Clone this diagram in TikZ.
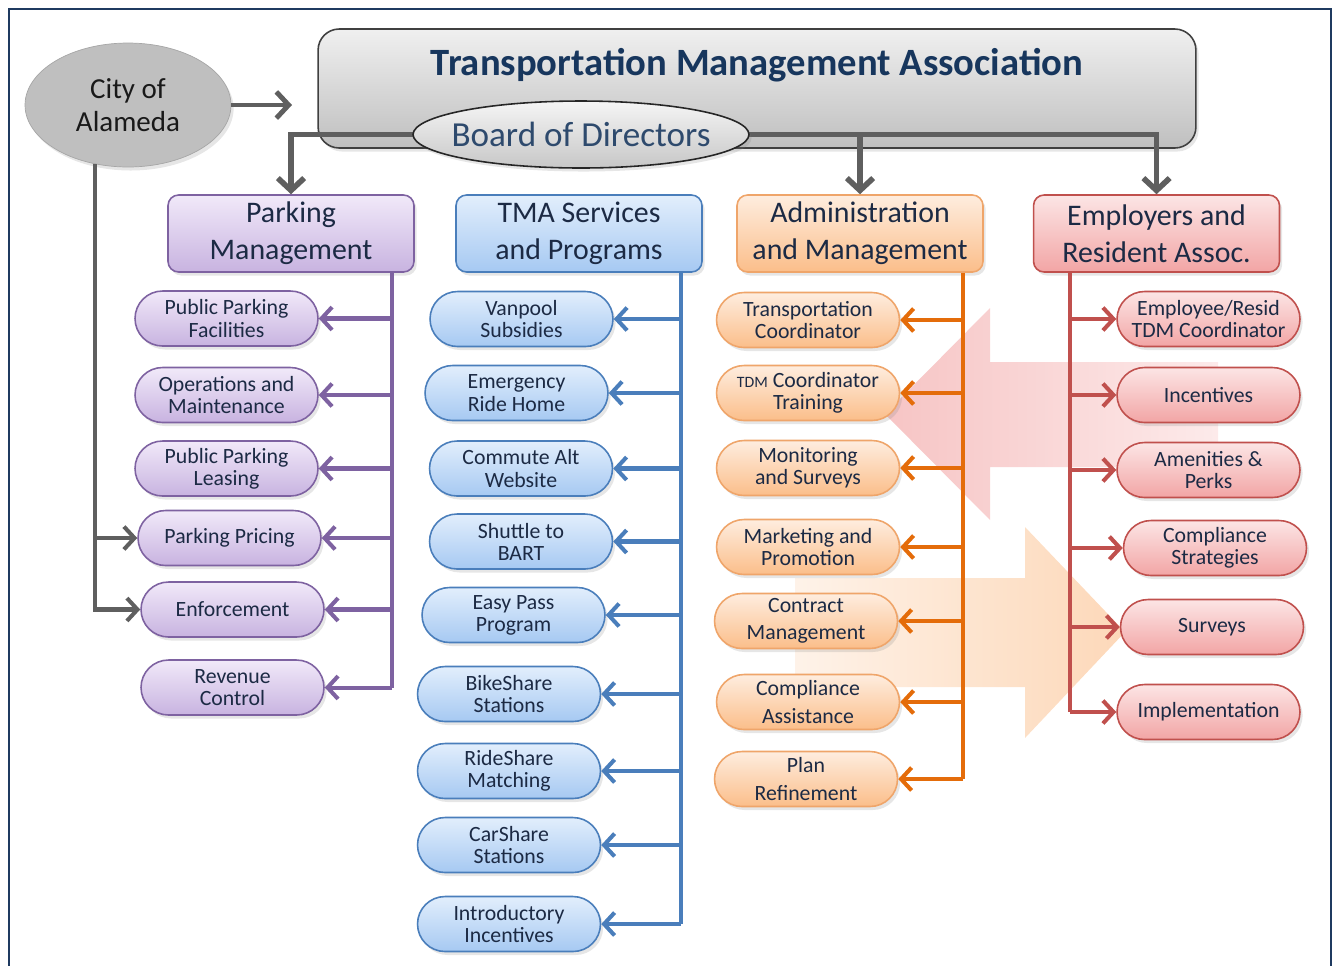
\documentclass[tikz,border=0pt]{standalone}
\usepackage{fontspec}
\setmainfont{Carlito}
\usetikzlibrary{arrows.meta,shapes.geometric,shadows}

\definecolor{frame}{HTML}{1F3A60}
\definecolor{txt}{HTML}{1C2A44}
\definecolor{navy}{HTML}{17365D}
\definecolor{grayline}{HTML}{5F5F5F}
\definecolor{pmline}{HTML}{7E62A1}
\definecolor{pmtop}{HTML}{F1E9F9}
\definecolor{pmbot}{HTML}{C8B3E0}
\definecolor{svline}{HTML}{4A7EBB}
\definecolor{svtop}{HTML}{E2EEFC}
\definecolor{svbot}{HTML}{A6C9F2}
\definecolor{adline}{HTML}{E46C0A}
\definecolor{adedge}{HTML}{EFA56A}
\definecolor{adtop}{HTML}{FEEDDF}
\definecolor{adbot}{HTML}{FBBE8A}
\definecolor{erline}{HTML}{C0504D}
\definecolor{ertop}{HTML}{FCE5E5}
\definecolor{erbot}{HTML}{F2A5A5}

\tikzset{
  base/.style={align=center, text=txt,
    drop shadow={opacity=0.2, shadow xshift=1.5pt, shadow yshift=-2pt}},
  head/.style={base, rectangle, rounded corners=6pt, minimum width=4.92cm,
    minimum height=1.54cm, line width=0.9pt, font=\fontsize{17}{21}\selectfont},
  item/.style={base, rectangle, rounded corners=0.55cm, minimum width=3.66cm,
    minimum height=1.1cm, inner sep=1pt, line width=0.9pt,
    font=\fontsize{12.4}{12.6}\selectfont},
  pmbox/.style={draw=pmline, top color=pmtop, bottom color=pmbot},
  svbox/.style={draw=svline, top color=svtop, bottom color=svbot},
  adbox/.style={draw=adedge, top color=adtop, bottom color=adbot},
  erbox/.style={draw=erline, top color=ertop, bottom color=erbot},
  link/.style={line width=2.3pt, -{Straight Barb[length=6pt,width=13pt]}},
  bus/.style={line width=2.3pt},
  boardlink/.style={grayline, line width=3.2pt, -{Straight Barb[length=7pt,width=15pt]}},
}

\begin{document}
\begin{tikzpicture}[x=0.02cm,y=-0.02cm]
  \useasboundingbox (0,0) rectangle (1337,965);
  \draw[frame, line width=1.1pt] (9,970) -- (9,9) -- (1331,9) -- (1331,970);

  % big background arrows
  \shade[left color=erbot!65, right color=ertop!80]
    (885,414) -- (990,308) -- (990,362) -- (1218,362) -- (1218,467)
    -- (990,467) -- (990,520) -- cycle;
  \shade[left color=adtop!70, right color=adbot!60]
    (795,578) -- (1025,578) -- (1025,527) -- (1125,632) -- (1025,738)
    -- (1025,687) -- (795,687) -- cycle;

  % top
  \node (tma) [base, rectangle, rounded corners=12pt, draw=black!75, line width=0.9pt,
    top color=black!6, bottom color=black!25, minimum width=17.56cm,
    minimum height=2.38cm] at (757,88.5) {};
  \node (title) [text=navy, font=\bfseries\fontsize{22}{26}\selectfont] at (757,65)
    {Transportation Management Association};
  \node (city) [base, ellipse, draw=black!35, fill=black!25, text=black!90,
    inner xsep=-4pt, minimum width=4.12cm, minimum height=2.48cm,
    font=\fontsize{16.5}{19}\selectfont] at (128,105) {City of\\Alameda};
  \coordinate (tmain) at (292,105);

  \node (pmhead) [head, pmbox] at (291,233.5) {Parking\\Management};
  \node (svhead) [head, svbox] at (579,233.5) {TMA Services\\and Programs};
  \node (adhead) [head, adbox] at (860,233.5) {Administration\\and Management};
  \node (erhead) [head, erbox] at (1156.5,233.5) {Employers and\\Resident Assoc.};

  \draw[boardlink] (576,134.5) -| (pmhead.north);
  \draw[boardlink] (576,134.5) -| (adhead.north);
  \draw[boardlink] (576,134.5) -| (erhead.north);
  \node (bod) [base, ellipse, draw=black!85, line width=0.9pt, top color=black!4,
    bottom color=black!22, inner xsep=-8pt, inner ysep=2pt, minimum width=6.72cm,
    minimum height=1.34cm, text=navy!90, font=\fontsize{20}{24}\selectfont]
    at (581,134.5) {Board of Directors};

  % parking management
  \node (pm1) [item, pmbox] at (226.5,318.5) {Public Parking\\Facilities};
  \node (pm2) [item, pmbox] at (226.5,395) {Operations and\\Maintenance};
  \node (pm3) [item, pmbox] at (226.5,468.5) {Public Parking\\Leasing};
  \node (pm4) [item, pmbox] at (229.5,538) {Parking Pricing};
  \node (pm5) [item, pmbox] at (232.5,609.5) {Enforcement};
  \node (pm6) [item, pmbox] at (232.5,687.5) {Revenue\\Control};
  \coordinate (pmbus) at (392,272);
  \draw[bus, pmline] (pmhead.south -| pmbus) -- (pmbus |- pm6.east);
  \foreach \i in {1,...,6}
    \draw[link, pmline] (pmbus |- pm\i.east) -- (pm\i.east);

  % tma services
  \node (sv1) [item, svbox] at (521.5,319) {Vanpool\\Subsidies};
  \node (sv2) [item, svbox] at (516.5,393) {Emergency\\Ride Home};
  \node (sv3) [item, svbox] at (521,468.5) {Commute Alt\\Website};
  \node (sv4) [item, svbox] at (521,541.5) {Shuttle to\\BART};
  \node (sv5) [item, svbox] at (513.5,615) {Easy Pass\\Program};
  \node (sv6) [item, svbox] at (509,694) {BikeShare\\Stations};
  \node (sv7) [item, svbox] at (509,771) {RideShare\\Matching};
  \node (sv8) [item, svbox] at (509,845) {CarShare\\Stations};
  \node (sv9) [item, svbox] at (509,924) {Introductory\\Incentives};
  \coordinate (svbus) at (681,272);
  \draw[bus, svline] (svhead.south -| svbus) -- (svbus |- sv9.east);
  \foreach \i in {1,...,9}
    \draw[link, svline] (svbus |- sv\i.east) -- (sv\i.east);

  % administration
  \node (ad1) [item, adbox] at (808,320) {Transportation\\Coordinator};
  \node (ad2) [item, adbox] at (808,393) {{\fontsize{9}{10}\selectfont TDM} Coordinator\\Training};
  \node (ad3) [item, adbox] at (808,468) {Monitoring\\and Surveys};
  \node (ad4) [item, adbox] at (808,547) {Marketing and\\Promotion};
  \node (ad5) [item, adbox] at (806,621) {Contract\\[3pt]Management};
  \node (ad6) [item, adbox] at (808,702) {Compliance\\[3pt]Assistance};
  \node (ad7) [item, adbox] at (806,779) {Plan\\[3pt]Refinement};
  \coordinate (adbus) at (963,272);
  \draw[bus, adline] (adhead.south -| adbus) -- (adbus |- ad7.east);
  \foreach \i in {1,...,7}
    \draw[link, adline] (adbus |- ad\i.east) -- (ad\i.east);

  % employers
  \node (er1) [item, erbox] at (1208.5,319) {Employee/Resid\\TDM Coordinator};
  \node (er2) [item, erbox] at (1208.5,395) {Incentives};
  \node (er3) [item, erbox] at (1208.5,470) {Amenities \&\\Perks};
  \node (er4) [item, erbox] at (1215,548) {Compliance\\Strategies};
  \node (er5) [item, erbox] at (1212,627) {Surveys};
  \node (er6) [item, erbox] at (1208.5,712) {Implementation};
  \coordinate (erbus) at (1070,272);
  \draw[bus, erline] (erhead.south -| erbus) -- (erbus |- er6.west);
  \foreach \i in {1,...,6}
    \draw[link, erline] (erbus |- er\i.west) -- (er\i.west);

  % city links
  \draw[boardlink, line width=2.8pt] (city) -- (tmain);
  \draw[link, grayline] (city.241) |- (pm5.west);
  \draw[link, grayline] (city.241 |- pm4.west) -- (pm4.west);
\end{tikzpicture}
\end{document}
